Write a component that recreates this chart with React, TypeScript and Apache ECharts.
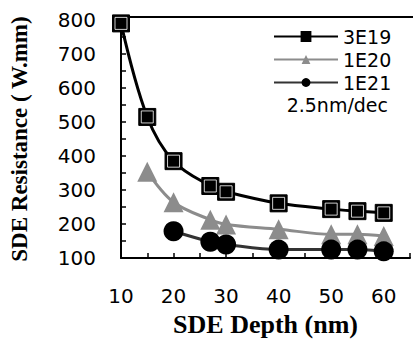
import React, { useEffect, useRef } from 'react';
import * as echarts from 'echarts';

const depth3E19 = [10, 15, 20, 27, 30, 40, 50, 55, 60];
const res3E19 = [790, 515, 385, 312, 295, 261, 244, 238, 233];
const depth1E20 = [15, 20, 27, 30, 40, 50, 55, 60];
const res1E20 = [354, 264, 213, 199, 185, 170, 170, 165];
const depth1E21 = [20, 27, 30, 40, 50, 55, 60];
const res1E21 = [179, 148, 140, 125, 125, 125, 120];
const seriesNames = ['3E19', '1E20', '1E21'];
const noteText = '2.5nm/dec';
const xTitle = 'SDE Depth (nm)';
const yTitle = 'SDE Resistance ( W.mm)';

const pairs = (xs: number[], ys: number[]) => xs.map((x, i) => [x, ys[i]]);

const LABEL_FONT = 'DejaVu Sans';
const TITLE_FONT = '"Liberation Serif", "Times New Roman", serif';

export default function App() {
  const ref = useRef<HTMLDivElement>(null);
  useEffect(() => {
    if (!ref.current) return;
    const chart = echarts.init(ref.current, undefined, { renderer: 'svg' });
    const axisLine = { show: true, lineStyle: { color: '#000', width: 2 } };
    chart.setOption({
      animation: false,
      backgroundColor: '#fff',
      grid: { left: 117, right: 0, top: 20, bottom: 76, containLabel: false },
      legend: {
        data: seriesNames,
        orient: 'vertical',
        left: 268,
        top: 22,
        itemWidth: 64,
        itemHeight: 11,
        itemGap: 4,
        textStyle: { fontFamily: LABEL_FONT, fontSize: 19, color: '#000' },
      },
      graphic: [
        {
          type: 'line',
          shape: { x1: 116, y1: 17, x2: 413, y2: 17 },
          style: { stroke: '#000', lineWidth: 2 },
        },
        {
          type: 'line',
          shape: { x1: 117, y1: 16, x2: 117, y2: 21 },
          style: { stroke: '#000', lineWidth: 2 },
        },
        {
          type: 'text',
          right: 25,
          top: 95,
          style: { text: noteText, fontFamily: LABEL_FONT, fontSize: 19, fill: '#000' },
        },
      ],
      xAxis: {
        type: 'value',
        min: 10,
        max: 65,
        interval: 5,
        name: xTitle,
        nameLocation: 'middle',
        nameGap: 52,
        nameTextStyle: { fontFamily: TITLE_FONT, fontWeight: 'bold', fontSize: 26, color: '#000' },
        axisLine,
        axisTick: { show: true, inside: true, length: 5, lineStyle: { color: '#000', width: 1.5 } },
        axisLabel: {
          margin: 28,
          fontFamily: LABEL_FONT,
          fontSize: 20,
          color: '#000',
          formatter: (v: number) => (v % 10 === 0 && v <= 60 ? String(v) : ''),
        },
        splitLine: { show: false },
      },
      yAxis: {
        type: 'value',
        min: 100,
        max: 800,
        interval: 50,
        name: yTitle,
        nameLocation: 'middle',
        nameGap: 90,
        nameTextStyle: { fontFamily: TITLE_FONT, fontWeight: 'bold', fontSize: 23, color: '#000' },
        axisLine,
        axisTick: { show: true, inside: true, length: 5, lineStyle: { color: '#000', width: 1.5 } },
        axisLabel: {
          margin: 25,
          fontFamily: LABEL_FONT,
          fontSize: 20,
          color: '#000',
          formatter: (v: number) => (v % 100 === 0 ? String(v) : ''),
        },
        splitLine: { show: false },
      },
      series: [
        {
          name: seriesNames[0],
          type: 'line',
          data: pairs(depth3E19, res3E19),
          smooth: 0.35,
          symbol: 'rect',
          symbolSize: 17,
          lineStyle: { color: '#000', width: 3 },
          itemStyle: { color: '#000', borderColor: '#000', borderWidth: 1 },
          z: 2,
        },
        {
          name: seriesNames[0] + ' inner',
          type: 'scatter',
          data: pairs(depth3E19, res3E19),
          symbol: 'rect',
          symbolSize: 12,
          itemStyle: { color: '#000', borderColor: '#fff', borderWidth: 1 },
          z: 3,
        },
        {
          name: seriesNames[1],
          type: 'line',
          data: pairs(depth1E20, res1E20),
          smooth: 0.35,
          symbol: 'triangle',
          symbolSize: 20,
          lineStyle: { color: '#8c8c8c', width: 3 },
          itemStyle: { color: '#8c8c8c' },
          z: 4,
        },
        {
          name: seriesNames[2],
          type: 'line',
          data: pairs(depth1E21, res1E21),
          smooth: 0.35,
          symbol: 'circle',
          symbolSize: 20,
          lineStyle: { color: '#333', width: 3 },
          itemStyle: { color: '#000' },
          z: 5,
        },
      ],
    });
    return () => chart.dispose();
  }, []);
  return (
    <div
      ref={ref}
      style={{ position: 'fixed', left: 0, top: 0, width: 413, height: 342, background: '#fff' }}
    />
  );
}
